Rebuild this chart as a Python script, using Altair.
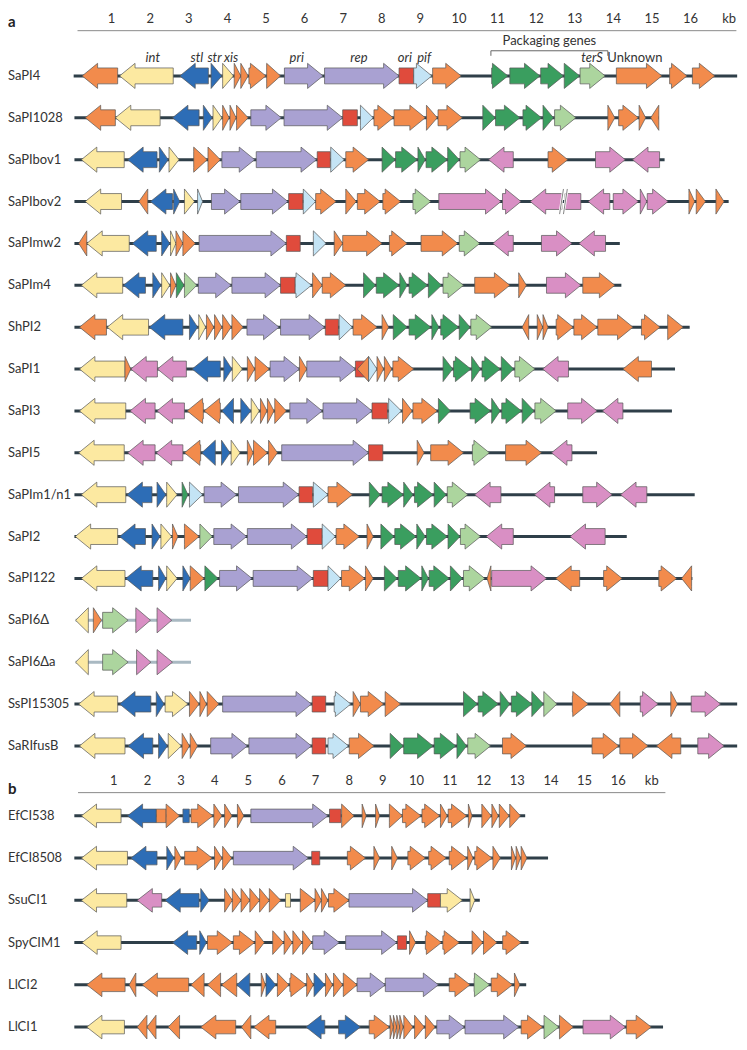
import altair as alt
import pandas as pd

FONT = "Lato"

# ---------------- categories / colours ----------------
CATS = ["Y", "O", "B", "P", "R", "C", "G", "L", "K"]   # int, unknown, regulators, pri/rep, ori, pif, packaging, terS, other
CAT_COLORS = ["#fce9a1", "#f28b4c", "#2d6db6", "#a9a1d2", "#e04b3c",
              "#c4e4f5", "#3a9e5f", "#acd59e", "#d98fc4"]

# ---------------- panel a data (kb) ----------------
ROWS_A = ["SaPI4", "SaPI1028", "SaPIbov1", "SaPIbov2", "SaPImw2", "SaPIm4", "ShPI2",
          "SaPI1", "SaPI3", "SaPI5", "SaPIm1/n1", "SaPI2", "SaPI122", "SaPI6Δ",
          "SaPI6Δa", "SsPI15305", "SaRIfusB"]
START_A = [0.03, 0.05, 0.05, 0.05, 0.05, 0.05, 0.05, 0.05, 0.05, 0.05, 0.05, 0.05, 0.05, 0.08, 0.08, 0.05, 0.05]
END_A = [17.22, 15.19, 15.34, 17.0, 14.18, 14.22, 15.99, 15.61, 15.53, 13.59, 16.12, 14.36, 16.06, 3.07, 3.07, 17.22, 17.22]
KIND_A = ["full"] * 13 + ["partial"] * 2 + ["full"] * 2

SAPI4 = [(0.25,1.17,-1,'O'),(1.22,2.61,-1,'Y'),(2.78,3.52,-1,'B'),(3.59,3.87,1,'B'),(3.89,4.17,1,'Y'),
         (4.19,4.36,1,'O'),(4.36,4.55,1,'O'),(4.57,5.01,1,'O'),(5.03,5.39,1,'O'),(5.49,6.49,1,'P'),
         (6.53,8.46,1,'P'),(8.46,8.84,0,'R'),(8.84,9.31,1,'C'),(9.33,10.07,1,'O'),(10.86,11.28,1,'G'),
         (11.33,12.11,1,'G'),(12.13,12.72,1,'G'),(12.74,13.14,1,'G'),(13.15,13.80,1,'L'),(14.09,15.27,1,'O'),
         (15.47,15.92,1,'O'),(16.06,16.64,1,'O')]
SAPI1028 = [(0.33,1.11,-1,'O'),(1.11,2.27,-1,'Y'),(2.59,3.28,-1,'B'),(3.39,3.62,1,'B'),(3.64,3.87,1,'Y'),
            (3.89,4.06,1,'O'),(4.08,4.24,1,'O'),(4.25,4.55,1,'O'),(4.62,5.41,1,'P'),(5.48,7.0,1,'P'),
            (7.0,7.38,0,'R'),(7.46,7.79,1,'C'),(7.81,8.31,1,'O'),(8.33,9.14,1,'O'),(9.17,9.45,1,'O'),
            (9.47,10.10,1,'O'),(10.63,10.95,1,'G'),(10.96,11.59,1,'G'),(11.67,12.15,1,'G'),(12.19,12.46,1,'G'),
            (12.49,13.04,1,'L'),(13.87,14.05,1,'O'),(14.15,14.66,1,'O'),(14.68,14.85,1,'O'),(14.98,15.19,-1,'O')]
SAPIBOV1 = [(0.23,1.34,-1,'Y'),(1.43,2.19,-1,'B'),(2.25,2.48,1,'B'),(2.50,2.76,1,'Y'),(3.14,3.49,1,'O'),
            (3.51,3.83,1,'O'),(3.87,4.72,1,'P'),(4.76,6.32,1,'P'),(6.34,6.68,0,'R'),(6.69,7.04,1,'C'),
            (7.08,7.67,1,'O'),(8.02,8.36,1,'G'),(8.37,8.93,1,'G'),(8.95,9.14,1,'G'),(9.16,9.71,1,'G'),
            (9.72,10.02,1,'G'),(10.04,10.57,1,'L'),(10.78,11.42,-1,'K'),(12.32,12.83,1,'O'),(13.55,14.32,1,'K'),
            (14.51,15.21,-1,'K')]
SAPIBOV2 = [(0.33,1.27,-1,'Y'),(1.72,1.95,-1,'O'),(2.02,2.59,-1,'B'),(2.62,2.78,1,'B'),(2.90,3.16,1,'Y'),
            (3.24,3.37,1,'C'),(3.60,4.34,1,'P'),(4.36,5.58,1,'P'),(5.60,5.97,0,'R'),(5.98,6.30,1,'C'),
            (6.30,6.83,1,'O'),(7.08,7.35,1,'O'),(7.38,7.97,1,'O'),(8.04,8.50,1,'O'),(8.82,9.28,1,'L'),
            (9.49,11.10,1,'K'),(11.14,11.62,1,'K'),(11.86,12.68,-1,'K'),(12.76,13.17,0,'K'),(13.36,13.92,-1,'K'),
            (14.01,14.66,1,'K'),(14.71,14.88,1,'K'),(14.89,15.43,1,'K'),(15.97,16.12,1,'O'),(16.16,16.40,1,'O'),
            (16.67,16.88,1,'O')]
SAPIMW2 = [(0.16,0.37,-1,'O'),(0.37,1.47,-1,'Y'),(1.55,2.17,-1,'B'),(2.31,2.52,1,'B'),(2.54,2.68,1,'Y'),
           (2.68,2.86,1,'O'),(2.86,3.18,1,'O'),(3.28,5.54,1,'P'),(5.54,5.90,0,'R'),(6.24,6.57,1,'C'),
           (6.78,7.0,1,'O'),(7.0,8.02,1,'O'),(8.21,8.67,1,'O'),(9.03,9.98,1,'O'),(10.02,10.55,1,'L'),
           (10.89,11.42,-1,'K'),(12.15,12.94,1,'K'),(13.12,13.81,-1,'K')]
SAPIM4 = [(0.23,1.30,-1,'Y'),(1.32,1.89,-1,'B'),(2.08,2.29,1,'B'),(2.31,2.52,1,'Y'),(2.54,2.68,1,'O'),
          (2.69,2.89,1,'G'),(2.90,3.22,1,'L'),(3.26,4.11,1,'P'),(4.13,5.39,1,'P'),(5.39,5.77,0,'R'),
          (5.77,6.19,1,'C'),(6.22,6.47,1,'O'),(6.47,7.08,1,'O'),(7.54,7.85,1,'G'),(7.87,8.46,1,'G'),
          (8.48,8.67,1,'G'),(8.72,9.20,1,'G'),(9.22,9.56,1,'G'),(9.60,10.13,1,'L'),(10.42,11.33,1,'O'),
          (11.56,11.76,1,'O'),(12.28,13.17,1,'K'),(13.22,14.05,1,'O')]
SHPI2 = [(0.18,0.88,-1,'O'),(0.90,1.97,-1,'Y'),(1.99,2.86,-1,'B'),(3.03,3.24,1,'B'),(3.27,3.45,1,'Y'),
         (3.47,3.66,1,'O'),(3.68,3.87,1,'O'),(3.89,4.11,1,'O'),(4.13,4.42,1,'O'),(4.52,5.35,1,'P'),
         (5.39,6.53,1,'P'),(6.55,6.89,0,'R'),(6.91,7.25,1,'C'),(7.27,7.89,1,'O'),(8.02,8.19,1,'O'),
         (8.31,8.67,1,'G'),(8.72,9.28,1,'G'),(9.31,9.49,1,'G'),(9.54,10.0,1,'G'),(10.02,10.30,1,'G'),
         (10.32,10.86,1,'L'),(11.65,11.82,-1,'O'),(12.04,12.18,1,'O'),(12.19,12.32,1,'O'),(12.53,12.97,1,'O'),
         (12.99,13.59,1,'O'),(13.61,14.52,1,'O'),(14.74,15.22,1,'O'),(15.42,15.82,1,'O')]
SAPI1 = [(0.18,1.36,-1,'Y'),(1.36,1.51,1,'O'),(1.51,2.20,-1,'K'),(2.20,2.95,-1,'K'),(3.10,3.83,-1,'B'),
         (3.92,4.13,1,'B'),(4.14,4.40,1,'Y'),(4.53,4.72,1,'O'),(4.73,5.10,1,'O'),(5.12,5.88,1,'P'),
         (6.07,7.33,1,'P'),(5.88,6.07,1,'O'),(7.33,7.67,0,'R'),(7.38,7.67,-1,'O'),(7.67,7.89,1,'C'),
         (7.89,8.06,1,'O'),(8.08,8.27,1,'O'),(8.30,8.84,1,'O'),(9.60,9.85,1,'G'),(9.87,10.32,1,'G'),
         (10.34,10.57,1,'G'),(10.61,11.08,1,'G'),(11.11,11.43,1,'G'),(11.46,11.98,1,'L'),(12.18,12.85,-1,'K'),
         (14.26,15.0,-1,'O')]
SAPI3 = [(0.18,1.38,-1,'Y'),(1.49,2.14,-1,'K'),(2.19,2.90,-1,'K'),(2.97,3.39,-1,'O'),(3.41,3.83,-1,'O'),
         (3.87,4.17,-1,'B'),(4.36,4.62,1,'B'),(4.63,4.84,1,'Y'),(4.87,5.04,1,'O'),(5.05,5.22,1,'O'),
         (5.24,5.54,1,'O'),(5.63,6.47,1,'P'),(6.49,7.76,1,'P'),(7.76,8.16,0,'R'),(8.19,8.52,1,'C'),
         (8.55,8.80,1,'O'),(8.82,9.45,1,'O'),(9.48,9.79,1,'G'),(10.30,10.83,1,'G'),(10.86,11.08,1,'G'),
         (11.12,11.63,1,'G'),(11.65,11.96,1,'G'),(11.98,12.53,1,'L'),(12.83,13.59,1,'K'),(13.73,14.26,-1,'K')]
SAPI5 = [(0.16,1.34,-1,'Y'),(1.43,2.14,-1,'K'),(2.17,2.86,-1,'K'),(2.90,3.32,-1,'O'),(3.35,3.70,-1,'B'),
         (3.86,4.08,1,'B'),(4.11,4.34,1,'Y'),(4.53,4.68,1,'O'),(4.69,5.05,1,'O'),(5.08,5.31,1,'O'),
         (5.42,7.67,1,'P'),(7.67,8.04,0,'R'),(8.93,9.11,1,'O'),(9.28,10.13,1,'O'),(10.36,10.80,1,'L'),
         (11.22,12.15,1,'O'),(12.41,12.94,-1,'K')]
SAPIM1 = [(0.23,1.38,-1,'Y'),(1.41,2.06,-1,'B'),(2.19,2.42,1,'B'),(2.44,2.71,1,'Y'),(2.84,2.99,1,'G'),
          (3.03,3.37,1,'C'),(3.41,4.25,1,'P'),(4.30,5.86,1,'P'),(5.87,6.22,0,'R'),(6.24,6.62,1,'C'),
          (6.62,7.25,1,'O'),(7.69,7.97,1,'G'),(8.02,8.57,1,'G'),(8.58,8.82,1,'G'),(8.86,9.34,1,'G'),
          (9.37,9.68,1,'G'),(9.71,10.24,1,'L'),(10.42,11.10,-1,'K'),(11.97,12.49,-1,'K'),(13.22,13.98,1,'K'),
          (14.20,14.88,-1,'K')]
SAPI2 = [(0.07,1.17,-1,'Y'),(1.22,1.89,-1,'B'),(2.06,2.27,1,'B'),(2.29,2.57,1,'Y'),(2.59,2.73,1,'O'),
         (2.90,3.28,1,'O'),(3.30,3.62,1,'L'),(3.66,4.51,1,'P'),(4.53,6.07,1,'P'),(6.08,6.47,0,'R'),
         (6.47,6.81,1,'C'),(6.83,7.43,1,'O'),(7.63,7.79,1,'O'),(7.99,8.33,1,'G'),(8.35,8.90,1,'G'),
         (8.92,9.14,1,'G'),(9.17,9.71,1,'G'),(9.73,10.04,1,'G'),(10.05,10.57,1,'L'),(10.72,11.42,-1,'K'),
         (12.89,13.80,-1,'K')]
SAPI122 = [(0.23,1.36,-1,'Y'),(1.38,2.08,-1,'B'),(2.23,2.42,1,'B'),(2.44,2.71,1,'Y'),(2.86,3.05,1,'B'),
           (3.05,3.41,1,'O'),(3.43,3.77,1,'G'),(3.81,4.65,1,'P'),(4.68,6.22,1,'P'),(6.24,6.62,0,'R'),
           (6.62,6.95,1,'C'),(6.97,7.57,1,'O'),(7.59,7.79,1,'O'),(8.08,8.41,1,'G'),(8.44,9.03,1,'G'),
           (9.05,9.22,1,'G'),(9.24,9.76,1,'G'),(9.79,10.10,1,'G'),(10.13,10.68,1,'L'),(10.74,10.84,-1,'O'),
           (10.86,12.28,1,'K'),(12.52,13.14,-1,'O'),(13.76,14.24,1,'O'),(15.19,15.65,1,'O'),(15.78,16.04,-1,'O')]
SAPI6D = [(0.08,0.41,-1,'Y'),(0.54,0.75,1,'O'),(0.78,1.44,1,'L'),(1.64,2.02,1,'K'),(2.19,2.57,1,'K')]
SAPI6DA = [(0.08,0.41,-1,'Y'),(0.78,1.44,1,'L'),(1.66,2.03,1,'K'),(2.19,2.59,1,'K')]
SSPI15305 = [(0.16,1.17,-1,'Y'),(1.22,2.03,-1,'B'),(2.17,2.37,1,'B'),(2.40,2.99,1,'Y'),(3.03,3.28,1,'O'),
             (3.30,3.47,1,'O'),(3.49,3.79,1,'O'),(3.89,6.19,1,'P'),(6.21,6.56,0,'R'),(6.78,7.21,1,'C'),
             (7.27,7.46,1,'O'),(7.46,8.06,1,'O'),(8.10,8.50,1,'O'),(10.13,10.49,1,'G'),(10.51,11.03,1,'G'),
             (11.08,11.33,1,'G'),(11.37,11.90,1,'G'),(11.90,12.20,1,'G'),(12.21,12.55,1,'L'),(12.95,13.36,1,'O'),
             (13.92,14.18,-1,'O'),(14.71,15.17,1,'K'),(15.50,15.67,1,'O'),(16.03,16.79,1,'K')]
SARIFUSB = [(0.18,1.36,-1,'Y'),(1.44,2.08,-1,'B'),(2.23,2.46,1,'B'),(2.48,2.82,1,'Y'),(2.84,3.03,1,'O'),
            (3.05,3.24,1,'O'),(3.58,4.53,1,'P'),(4.57,6.19,1,'P'),(6.21,6.56,0,'R'),(6.62,7.15,1,'C'),
            (7.17,7.81,1,'O'),(8.23,8.57,1,'G'),(8.58,9.34,1,'G'),(9.37,9.93,1,'G'),(9.96,10.21,1,'G'),
            (10.24,10.83,1,'L'),(11.14,11.76,1,'O'),(13.46,14.15,1,'O'),(14.18,14.91,1,'O'),(15.13,15.76,-1,'O'),
            (16.20,16.88,1,'K')]
GENES_A = [SAPI4, SAPI1028, SAPIBOV1, SAPIBOV2, SAPIMW2, SAPIM4, SHPI2, SAPI1, SAPI3, SAPI5,
           SAPIM1, SAPI2, SAPI122, SAPI6D, SAPI6DA, SSPI15305, SARIFUSB]

BREAK_ROW = [3]
BREAK_KB = [12.72]

GENE_LABELS = ["int", "stl", "str", "xis", "pri", "rep", "ori", "pif", "terS"]
GENE_LABEL_KB = [2.08, 3.22, 3.68, 4.11, 5.81, 7.42, 8.61, 9.11, 13.46]
UNKNOWN_KB = 14.57
PACK_KB = [10.84, 13.87]
SCALE_A = [0.13, 17.2]

# ---------------- panel b data (kb) ----------------
ROWS_B = ["EfCI538", "EfCI8508", "SsuCI1", "SpyCIM1", "LlCI2", "LlCI1"]
START_B = [-0.16, -0.16, -0.16, -0.16, -0.16, -0.16]
END_B = [13.25, 13.93, 11.90, 13.35, 13.28, 17.35]

EFCI538 = [(0.05,1.23,-1,'Y'),(1.42,2.28,-1,'B'),(2.28,2.57,0,'O'),(2.57,2.97,1,'O'),(3.07,3.26,0,'B'),
           (3.31,3.96,1,'O'),(3.99,4.23,1,'O'),(4.31,4.53,1,'O'),(4.69,4.88,1,'O'),(5.09,7.38,1,'P'),
           (7.43,7.77,0,'R'),(7.79,8.16,1,'O'),(8.40,8.52,1,'O'),(8.80,8.92,1,'O'),(9.21,9.60,1,'O'),
           (9.60,10.15,1,'O'),(10.18,10.71,1,'O'),(10.73,10.93,1,'O'),(10.96,11.51,1,'O'),(11.56,11.67,1,'O'),
           (11.96,12.24,1,'O'),(12.26,12.45,1,'O'),(12.48,12.77,1,'O'),(12.79,13.11,1,'O')]
EFCI8508 = [(0.05,1.42,-1,'Y'),(1.52,2.30,-1,'B'),(2.59,2.80,1,'B'),(2.83,3.02,1,'O'),(3.12,3.94,1,'O'),
            (4.01,4.23,1,'O'),(4.25,4.52,1,'O'),(4.57,6.80,1,'P'),(6.90,7.14,0,'R'),(7.96,8.50,1,'O'),
            (8.75,8.92,1,'O'),(9.28,9.45,1,'O'),(9.76,10.28,1,'O'),(10.38,10.90,1,'O'),(10.99,11.51,1,'O'),
            (11.54,11.70,1,'O'),(11.75,12.26,1,'O'),(12.29,12.51,1,'O'),(12.84,12.96,1,'O'),(12.98,13.11,1,'O'),
            (13.13,13.30,1,'O')]
SSUCI1 = [(0.05,1.40,-1,'Y'),(1.71,2.44,-1,'K'),(2.54,3.55,-1,'B'),(3.60,3.85,1,'B'),(4.31,4.54,1,'O'),
          (4.54,4.80,1,'O'),(4.80,5.06,1,'O'),(5.06,5.35,1,'O'),(5.35,5.64,1,'O'),(5.64,5.98,1,'O'),
          (6.12,6.27,0,'Y'),(6.56,7.0,1,'O'),(7.0,7.19,1,'O'),(7.19,7.38,1,'O'),(7.40,8.01,1,'O'),
          (8.01,10.35,1,'P'),(10.35,10.73,0,'R'),(10.73,11.38,1,'Y'),(11.61,11.75,1,'Y')]
SPYCIM1 = [(0.07,1.23,-1,'Y'),(2.76,3.48,-1,'B'),(3.57,3.77,1,'B'),(3.80,4.54,1,'O'),(4.57,5.20,1,'O'),
           (5.22,5.49,1,'O'),(5.74,6.06,1,'O'),(6.08,6.32,1,'O'),(6.34,6.61,1,'O'),(6.63,6.90,1,'O'),
           (6.93,7.72,1,'P'),(7.91,9.43,1,'P'),(9.45,9.72,0,'R'),(9.81,9.99,1,'O'),(10.28,10.76,1,'O'),
           (10.80,11.29,1,'O'),(11.67,11.99,1,'O'),(12.01,12.41,1,'O'),(12.58,13.13,1,'O')]
LLCI2 = [(0.21,1.35,-1,'O'),(1.47,1.67,-1,'O'),(1.86,3.24,-1,'O'),(3.31,3.70,-1,'O'),(3.80,4.19,-1,'O'),
         (4.22,4.67,-1,'O'),(4.67,5.06,-1,'B'),(5.40,5.52,1,'O'),(5.54,5.83,1,'B'),(5.88,6.22,1,'O'),
         (6.25,6.73,1,'O'),(6.75,6.95,1,'O'),(6.97,7.29,1,'B'),(7.31,7.52,1,'O'),(7.55,7.82,1,'O'),
         (7.84,8.25,1,'O'),(8.25,9.09,1,'P'),(9.09,10.67,1,'P'),(10.99,11.61,1,'O'),(11.73,12.19,1,'L'),
         (12.24,12.87,1,'O'),(12.93,13.09,1,'O')]
LLCI1 = [(0.21,1.33,-1,'Y'),(1.71,2.0,-1,'O'),(2.0,2.27,-1,'O'),(2.63,2.97,-1,'O'),(3.60,4.64,-1,'O'),
         (4.81,5.09,-1,'O'),(5.18,5.83,-1,'O'),(6.73,7.29,-1,'B'),(7.70,8.35,1,'B'),(8.61,9.21,1,'O'),
         (9.23,9.33,1,'O'),(9.33,9.43,1,'O'),(9.43,9.52,1,'O'),(9.52,9.62,1,'O'),(9.64,9.91,1,'O'),
         (9.96,10.25,1,'O'),(10.28,10.57,1,'O'),(10.62,11.44,1,'P'),(11.46,13.06,1,'P'),(13.13,13.77,1,'O'),
         (13.81,14.25,1,'L'),(14.27,14.68,1,'O'),(14.97,16.23,1,'K'),(16.26,17.0,1,'O')]
GENES_B = [EFCI538, EFCI8508, SSUCI1, SPYCIM1, LLCI2, LLCI1]
SCALE_B = [-0.05, 17.42]


# ---------------- helpers ----------------
def polygon(s, e, strand, hl, b, H):
    if strand == 0:
        return [(s, -b), (e, -b), (e, b), (s, b)]
    h = min(hl, e - s)
    if strand == 1:
        n = e - h
        return [(s, -b), (n, -b), (n, -H), (e, 0), (n, H), (n, b), (s, b)]
    n = s + h
    return [(e, -b), (n, -b), (n, -H), (s, 0), (n, H), (n, b), (e, b)]


def gene_table(genes_rows, hl, b, H):
    recs = []
    gid = 0
    for r, genes in enumerate(genes_rows):
        for (s, e, d, c) in genes:
            for k, (x, dy) in enumerate(polygon(s, e, d, hl, b, H)):
                recs.append({"gid": gid, "k": k, "x": x, "y": r + dy, "cat": c})
            gid += 1
    return pd.DataFrame(recs)


def panel(rows, starts, ends, kinds, genes, xdom, ydom, width, height, scale_ext,
          hl, b, H, letter, letter_dy, extra_layers_fn=None):
    xs = alt.Scale(domain=xdom, nice=False, zero=False)
    ys = alt.Scale(domain=ydom, nice=False, zero=False, reverse=True)
    ax = alt.Axis(orient="top", values=list(range(1, 18)),
                  labelExpr="datum.value == 17 ? 'kb' : datum.label",
                  domain=False, ticks=False, grid=False, labelPadding=5,
                  labelFontSize=13, labelFont=FONT, labelColor="#333333",
                  labelFlush=False, title=None)

    def X(f="x"):
        return alt.X(f"{f}:Q", scale=xs, axis=ax)

    def Y(f="y"):
        return alt.Y(f"{f}:Q", scale=ys, axis=None)

    scale_df = pd.DataFrame({"x": [scale_ext[0]], "x2": [scale_ext[1]]})
    scale_line = alt.Chart(scale_df).mark_rule(color="#8a8a8a", strokeWidth=1).encode(
        x=X(), x2="x2:Q", y=alt.value(0))

    bb = pd.DataFrame({"x": starts, "x2": ends, "y": list(range(len(rows))), "kind": kinds})
    backbone = alt.Chart(bb).mark_rule(strokeWidth=3, strokeCap="butt").encode(
        x=X(), x2="x2:Q", y=Y(),
        color=alt.Color("kind:N", scale=alt.Scale(domain=["full", "partial"],
                                                   range=["#2f3f49", "#a9b9c2"]), legend=None))

    gdf = gene_table(genes, hl, b, H)
    arrows = alt.Chart(gdf).mark_line(interpolate="linear-closed", stroke="#555555",
                                      strokeWidth=0.7, strokeJoin="miter").encode(
        x=X(), y=Y(), detail="gid:N", order="k:Q",
        fill=alt.Fill("cat:N", scale=alt.Scale(domain=CATS, range=CAT_COLORS), legend=None))

    lab = pd.DataFrame({"name": rows, "y": list(range(len(rows)))})
    labels = alt.Chart(lab).mark_text(align="left", baseline="middle", font=FONT,
                                      fontSize=13, color="#333333").encode(
        x=alt.value(-61), y=Y(), text="name:N")

    let = alt.Chart(pd.DataFrame({"t": [letter]})).mark_text(
        align="left", baseline="middle", font=FONT, fontSize=15, fontWeight="bold",
        color="#222222").encode(x=alt.value(-61), y=alt.value(letter_dy), text="t:N")

    layers = [scale_line, backbone, arrows]
    if extra_layers_fn is not None:
        layers += extra_layers_fn(X, Y)
    layers += [labels, let]
    return alt.layer(*layers).properties(width=width, height=height)


def extras_a(X, Y):
    out = []
    # broken gene marks
    sl = []
    for r, kb in zip(BREAK_ROW, BREAK_KB):
        for off in (-0.05, 0.05):
            sl.append({"x": kb + off - 0.05, "x2": kb + off + 0.05, "y": r + 0.3, "y2": r - 0.3})
    sdf = pd.DataFrame(sl)
    out.append(alt.Chart(sdf).mark_rule(color="#ffffff", strokeWidth=2.5).encode(
        x=X(), x2="x2:Q", y=Y(), y2="y2:Q"))
    out.append(alt.Chart(sdf).mark_rule(color="#666666", strokeWidth=0.8).encode(
        x=X(), x2="x2:Q", y=Y(), y2="y2:Q"))
    # gene names
    gl = pd.DataFrame({"x": GENE_LABEL_KB, "t": GENE_LABELS, "y": [-0.43] * len(GENE_LABELS)})
    out.append(alt.Chart(gl).mark_text(font=FONT, fontSize=13, fontStyle="italic",
                                       color="#333333", baseline="middle").encode(
        x=X(), y=Y(), text="t:N"))
    un = pd.DataFrame({"x": [UNKNOWN_KB], "t": ["Unknown"], "y": [-0.43]})
    out.append(alt.Chart(un).mark_text(font=FONT, fontSize=13, color="#333333",
                                       baseline="middle").encode(x=X(), y=Y(), text="t:N"))
    pk = pd.DataFrame({"x": [(PACK_KB[0] + PACK_KB[1]) / 2], "t": ["Packaging genes"], "y": [-0.84]})
    out.append(alt.Chart(pk).mark_text(font=FONT, fontSize=13, color="#333333",
                                       baseline="middle").encode(x=X(), y=Y(), text="t:N"))
    br = pd.DataFrame({"x": [PACK_KB[0], PACK_KB[0], PACK_KB[1]],
                       "x2": [PACK_KB[1], PACK_KB[0], PACK_KB[1]],
                       "y": [-0.6, -0.6, -0.6], "y2": [-0.6, -0.48, -0.48]})
    out.append(alt.Chart(br).mark_rule(color="#666666", strokeWidth=1).encode(
        x=X(), x2="x2:Q", y=Y(), y2="y2:Q"))
    return out


top = panel(ROWS_A, START_A, END_A, KIND_A, GENES_A,
            xdom=[-0.093, 17.216], ydom=[-1.08, 16.4], width=669, height=733,
            scale_ext=SCALE_A, hl=0.4, b=0.19, H=0.30, letter="a", letter_dy=-9,
            extra_layers_fn=extras_a)
bottom = panel(ROWS_B, START_B, END_B, ["full"] * len(ROWS_B), GENES_B,
               xdom=[-0.321, 19.55], ydom=[-0.55, 5.36], width=669, height=250,
               scale_ext=SCALE_B, hl=0.45, b=0.16, H=0.28, letter="b", letter_dy=-4)

chart = alt.vconcat(top, bottom, spacing=12).resolve_scale(
    x="independent", y="independent").properties(
    padding={"top": 4, "left": 0, "right": 0, "bottom": 0}).configure_view(stroke=None)

chart.save("out.html", embed_options={"renderer": "svg", "actions": False})
